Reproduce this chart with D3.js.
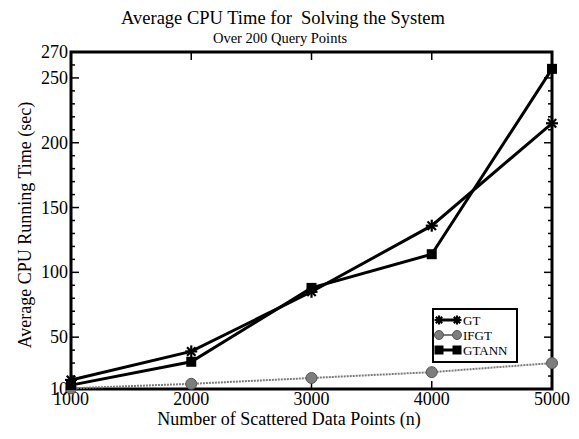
<!DOCTYPE html>
<html>
<head>
<meta charset="utf-8">
<script src="https://cdn.jsdelivr.net/npm/d3@7"></script>
<style>
  body { margin: 0; background: #fff; }
  text { font-family: "Liberation Serif", "Times New Roman", serif; fill: #000; white-space: pre; }
</style>
</head>
<body>
<div id="chart"></div>
<script>
// data
var sizes = [1000, 2000, 3000, 4000, 5000];
var gtValues = [17, 39, 85, 136, 215];
var ifgtValues = [10.5, 14, 18.5, 23, 30];
var gtannValues = [13, 31, 88, 114, 257];
var yTickLabels = [10, 50, 100, 150, 200, 250, 270];

var width = 579, height = 439;
var margin = {left: 71, right: 27, top: 52, bottom: 50};

var svg = d3.select('#chart').append('svg')
    .attr('width', width)
    .attr('height', height);

var x = d3.scaleLinear().domain([1000, 5000]).range([margin.left, width - margin.right]);
var y = d3.scaleLinear().domain([10, 270]).range([height - margin.bottom, margin.top]);

// titles
svg.append('text')
    .attr('x', 283).attr('y', 24)
    .attr('text-anchor', 'middle')
    .attr('xml:space', 'preserve')
    .style('font-size', '18.5px')
    .text('Average CPU Time for  Solving the System');

svg.append('text')
    .attr('x', 280).attr('y', 43)
    .attr('text-anchor', 'middle')
    .style('font-size', '14.5px')
    .text('Over 200 Query Points');

// frame
svg.append('rect')
    .attr('x', x(1000)).attr('y', y(270))
    .attr('width', x(5000) - x(1000))
    .attr('height', y(10) - y(270))
    .attr('fill', 'none')
    .attr('stroke', '#000')
    .attr('stroke-width', 3);

// minor + major y ticks on both sides, pointing inward
var yMinor = d3.range(20, 270, 10);
yMinor.forEach(function(v) {
    var len = (v % 50 === 0) ? 8 : 4;
    svg.append('line')
        .attr('x1', x(1000)).attr('x2', x(1000) + len)
        .attr('y1', y(v)).attr('y2', y(v))
        .attr('stroke', '#000').attr('stroke-width', 1.5);
    svg.append('line')
        .attr('x1', x(5000)).attr('x2', x(5000) - len)
        .attr('y1', y(v)).attr('y2', y(v))
        .attr('stroke', '#000').attr('stroke-width', 1.5);
});

// x ticks top and bottom
sizes.slice(1, -1).forEach(function(v) {
    svg.append('line')
        .attr('x1', x(v)).attr('x2', x(v))
        .attr('y1', y(270)).attr('y2', y(270) + 8)
        .attr('stroke', '#000').attr('stroke-width', 1.5);
    svg.append('line')
        .attr('x1', x(v)).attr('x2', x(v))
        .attr('y1', y(10)).attr('y2', y(10) - 8)
        .attr('stroke', '#000').attr('stroke-width', 1.5);
});

// tick labels
svg.selectAll('.ylabel')
    .data(yTickLabels).enter()
    .append('text')
    .attr('class', 'ylabel')
    .attr('x', x(1000) - 3)
    .attr('y', function(d) { return y(d) + 6; })
    .attr('text-anchor', 'end')
    .style('font-size', '18px')
    .text(function(d) { return d; });

svg.selectAll('.xlabel')
    .data(sizes).enter()
    .append('text')
    .attr('class', 'xlabel')
    .attr('x', function(d) { return x(d); })
    .attr('y', y(10) + 16)
    .attr('text-anchor', 'middle')
    .style('font-size', '18px')
    .text(function(d) { return d; });

// axis titles
svg.append('text')
    .attr('x', 289).attr('y', 425)
    .attr('text-anchor', 'middle')
    .style('font-size', '18px')
    .text('Number of Scattered Data Points (n)');

svg.append('text')
    .attr('transform', 'translate(31,' + 225 + ') rotate(-90)')
    .attr('text-anchor', 'middle')
    .style('font-size', '18px')
    .text('Average CPU Running Time (sec)');

var line = d3.line()
    .x(function(d) { return x(d[0]); })
    .y(function(d) { return y(d[1]); });

function zip(vals) { return sizes.map(function(s, i) { return [s, vals[i]]; }); }

// IFGT line (gray, thin)
svg.append('path')
    .datum(zip(ifgtValues))
    .attr('d', line)
    .attr('fill', 'none')
    .attr('stroke', '#7a7a7a')
    .attr('stroke-width', 2)
    .attr('stroke-dasharray', '2,1');

svg.append('path')
    .datum(zip(gtValues))
    .attr('d', line)
    .attr('fill', 'none')
    .attr('stroke', '#000')
    .attr('stroke-width', 3);

svg.append('path')
    .datum(zip(gtannValues))
    .attr('d', line)
    .attr('fill', 'none')
    .attr('stroke', '#000')
    .attr('stroke-width', 3);

function drawStar(g, cx, cy, r) {
    r = r || 6;
    for (var k = 0; k < 4; k++) {
        var a = k * Math.PI / 4;
        g.append('line')
            .attr('x1', cx - r * Math.cos(a)).attr('y1', cy - r * Math.sin(a))
            .attr('x2', cx + r * Math.cos(a)).attr('y2', cy + r * Math.sin(a))
            .attr('stroke', '#000').attr('stroke-width', 2.2);
    }
}
function drawCircle(g, cx, cy, r) {
    g.append('circle')
        .attr('cx', cx).attr('cy', cy).attr('r', r || 5.5)
        .attr('fill', '#7d7d7d').attr('stroke', '#555').attr('stroke-width', 1);
}
function drawSquare(g, cx, cy, r) {
    r = r || 5;
    g.append('rect')
        .attr('x', cx - r).attr('y', cy - r)
        .attr('width', 2 * r).attr('height', 2 * r)
        .attr('fill', '#000');
}

var markers = svg.append('g');
sizes.forEach(function(s, i) {
    drawCircle(markers, x(s), y(ifgtValues[i]));
    drawStar(markers, x(s), y(gtValues[i]));
    drawSquare(markers, x(s), y(gtannValues[i]));
});

// legend
var legend = svg.append('g');
legend.append('rect')
    .attr('x', 433).attr('y', 309)
    .attr('width', 84).attr('height', 53)
    .attr('fill', '#fff')
    .attr('stroke', '#000').attr('stroke-width', 2);

var legendItems = [
    {name: 'GT', y: 320, draw: drawStar, color: '#000', w: 3},
    {name: 'IFGT', y: 335, draw: drawCircle, color: '#7a7a7a', w: 2},
    {name: 'GTANN', y: 350, draw: drawSquare, color: '#000', w: 3}
];
legendItems.forEach(function(d) {
    legend.append('line')
        .attr('x1', 439).attr('x2', 457)
        .attr('y1', d.y).attr('y2', d.y)
        .attr('stroke', d.color).attr('stroke-width', d.w);
    d.draw(legend, 439, d.y, 4.5);
    d.draw(legend, 457, d.y, 4.5);
    legend.append('text')
        .attr('x', 463).attr('y', d.y + 4.5)
        .style('font-size', '13px')
        .text(d.name);
});
</script>
</body>
</html>
